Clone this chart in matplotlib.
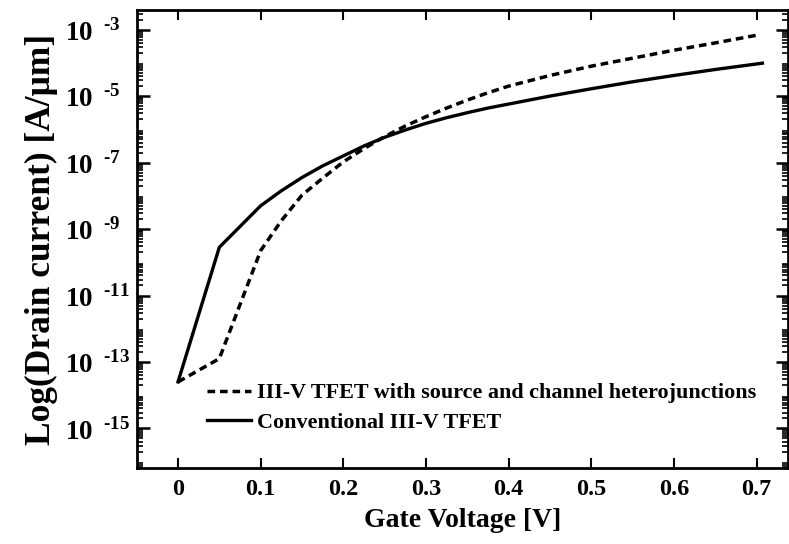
import numpy as np
import matplotlib
matplotlib.use("Agg")
import matplotlib.pyplot as plt
from matplotlib.ticker import FixedLocator, LogLocator, NullFormatter

plt.rcParams['font.family'] = ['Liberation Serif', 'DejaVu Serif']
plt.rcParams['font.weight'] = 'bold'
plt.rcParams['mathtext.fontset'] = 'custom'
plt.rcParams['mathtext.rm'] = 'Liberation Serif:bold'
plt.rcParams['mathtext.bf'] = 'Liberation Serif:bold'

# gate voltage [V] and log10 of drain current [A/um]
vg_hetero = [0.0, 0.05, 0.1, 0.125, 0.15, 0.175, 0.2, 0.225, 0.25, 0.275, 0.3,
             0.325, 0.35, 0.375, 0.4, 0.45, 0.5, 0.55, 0.6, 0.65, 0.7]
logid_hetero = [-13.6, -12.9, -9.65, -8.75, -7.98, -7.47, -6.98, -6.58, -6.22, -5.9, -5.62,
                -5.36, -5.12, -4.9, -4.7, -4.38, -4.1, -3.86, -3.62, -3.4, -3.17]

vg_conv = [0.0, 0.05, 0.1, 0.125, 0.15, 0.175, 0.2, 0.225, 0.25, 0.275, 0.3,
           0.325, 0.35, 0.375, 0.4, 0.45, 0.5, 0.55, 0.6, 0.65, 0.707]
logid_conv = [-13.6, -9.55, -8.3, -7.85, -7.45, -7.1, -6.8, -6.5, -6.24, -6.02, -5.82,
              -5.65, -5.5, -5.36, -5.24, -5.0, -4.78, -4.57, -4.38, -4.2, -4.01]

label_hetero = "III-V TFET with source and channel heterojunctions"
label_conv = "Conventional III-V TFET"

xticks = [0, 0.1, 0.2, 0.3, 0.4, 0.5, 0.6, 0.7]
xticklabels = ["0", "0.1", "0.2", "0.3", "0.4", "0.5", "0.6", "0.7"]
yexp = [-15, -13, -11, -9, -7, -5, -3]

fig = plt.figure(figsize=(7.89, 5.44), dpi=100)
ax = fig.add_axes([137/789, 1-468/544, (788-137)/789, (468-10)/544])

ax.plot(vg_hetero, 10.0**np.array(logid_hetero), color='black', lw=2.5,
        linestyle=(0, (2.2, 1.4)), label=label_hetero)
ax.plot(vg_conv, 10.0**np.array(logid_conv), color='black', lw=2.4,
        linestyle='-', label=label_conv)

ax.set_yscale('log')
ax.set_xlim(-0.0496, 0.738)
ax.set_ylim(10**-16.19, 10**-2.41)

ax.set_xticks(xticks)
ax.set_xticklabels(xticklabels)
ax.yaxis.set_major_locator(FixedLocator([10.0**e for e in yexp]))
# hyphen instead of the math minus, like the original
ax.set_yticklabels(['$10^{\\;\\;\u2010%d}$' % (-e) for e in yexp])
ax.yaxis.set_minor_locator(LogLocator(base=10, subs=np.arange(2, 10), numticks=50))
ax.yaxis.set_minor_formatter(NullFormatter())

ax.tick_params(axis='both', which='both', direction='in', top=True, right=True)
ax.tick_params(axis='x', which='major', length=7, width=1.5, labelsize=17.5, pad=8)
ax.tick_params(axis='y', which='major', length=9, width=1.8, labelsize=19.5, pad=52)
ax.tick_params(axis='y', which='minor', length=4, width=1.2)
for lab in ax.get_yticklabels():
    lab.set_horizontalalignment('left')

for sp in ax.spines.values():
    sp.set_linewidth(2.0)

ax.set_xlabel("Gate Voltage [V]", fontsize=20, fontweight='bold', labelpad=6)
ax.set_ylabel("Log(Drain current) [A/\u03bcm]", fontsize=25.5, fontweight='bold', labelpad=5)

ax.legend(loc='upper left', bbox_to_anchor=(0.108, 0.186), frameon=False,
          fontsize=15.9, handlelength=2.0, handletextpad=0.25, labelspacing=0.4,
          borderpad=0, borderaxespad=0)

fig.savefig("out.png", dpi=100)
